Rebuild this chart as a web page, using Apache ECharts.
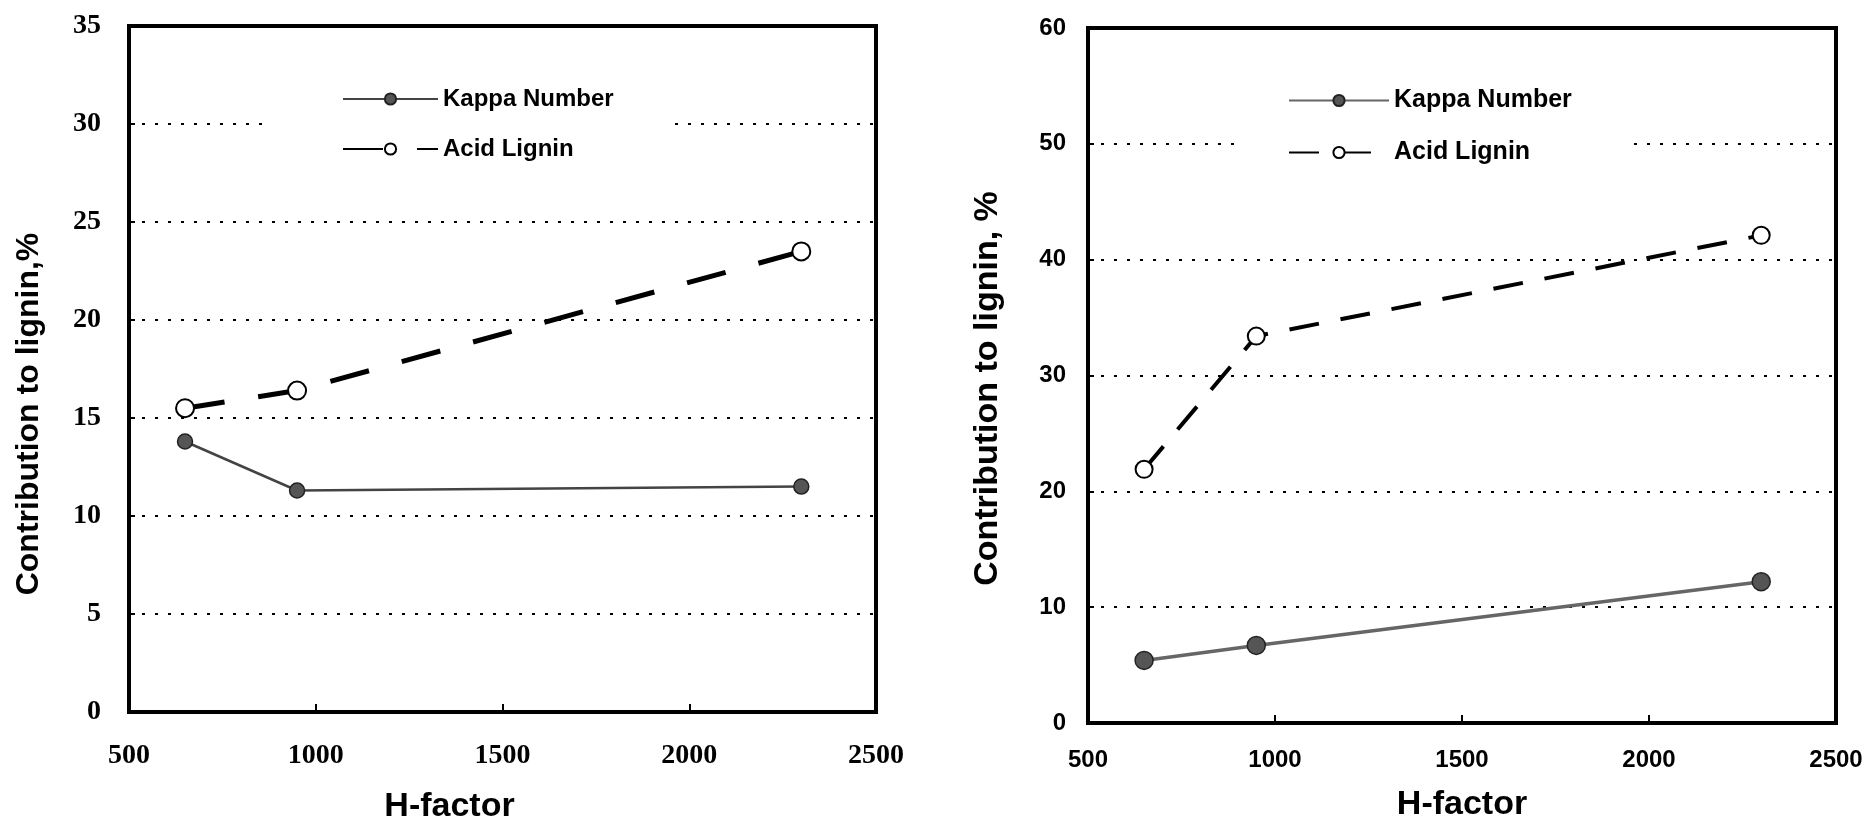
<!DOCTYPE html>
<html>
<head>
<meta charset="utf-8">
<script src="https://cdn.jsdelivr.net/npm/echarts@6/dist/echarts.min.js"></script>
<style>
  html, body { margin: 0; padding: 0; background: #fff; }
  #c1 { position: absolute; left: 0; top: 0; width: 940px; height: 829px; }
  #c2 { position: absolute; left: 940px; top: 0; width: 935px; height: 829px; }
</style>
</head>
<body>
<div id="c1"></div>
<div id="c2"></div>
<script>
// Data
var hFactor = [650, 950, 2300];
var leftKappa = [13.8, 11.3, 11.5];
var leftAcid = [15.5, 16.4, 23.5];
var rightKappa = [5.4, 6.7, 12.2];
var rightAcid = [21.9, 33.4, 42.1];
var xTicks = [500, 1000, 1500, 2000, 2500];

function pairs(xs, ys) { return xs.map(function (x, i) { return [x, ys[i]]; }); }
function plain(v) { return String(v); }

var gridDots = { show: true, lineStyle: { color: '#000', width: 2, type: [3, 10] } };

function makeOption(cfg) {
  return {
    animation: false,
    backgroundColor: '#fff',
    grid: {
      left: cfg.grid[0], right: cfg.grid[1], top: cfg.grid[2], bottom: cfg.grid[3],
      show: true, borderColor: '#000', borderWidth: 4, backgroundColor: 'transparent'
    },
    legend: {
      left: cfg.legendLeft, top: cfg.legendTop,
      orient: 'vertical',
      padding: cfg.legendPadding,
      backgroundColor: '#fff',
      itemWidth: cfg.legendItemWidth, itemHeight: 14,
      itemGap: cfg.legendGap,
      textStyle: { color: '#000', fontWeight: 'bold', fontFamily: 'Liberation Sans, Arial, sans-serif', fontSize: cfg.legendFont },
      data: ['Kappa Number', 'Acid Lignin']
    },
    xAxis: {
      type: 'value', min: xTicks[0], max: xTicks[xTicks.length - 1], interval: 500,
      name: 'H-factor', nameLocation: 'middle', nameGap: cfg.xNameGap,
      nameTextStyle: { color: '#000', fontWeight: 'bold', fontFamily: 'Liberation Sans, Arial, sans-serif', fontSize: cfg.nameFont, padding: cfg.xNamePad },
      axisLine: { show: true, lineStyle: { color: '#000', width: 4 } },
      axisTick: { show: true, inside: true, length: 8, lineStyle: { color: '#000', width: 2 } },
      axisLabel: { color: '#000', fontWeight: 'bold', fontFamily: cfg.tickFamily, fontSize: cfg.tickFont, margin: cfg.xLabelMargin, formatter: plain },
      splitLine: { show: false }
    },
    yAxis: {
      type: 'value', min: 0, max: cfg.yMax, interval: cfg.yInterval,
      name: cfg.yName, nameLocation: 'middle', nameGap: cfg.yNameGap,
      nameTextStyle: { color: '#000', fontWeight: 'bold', fontFamily: 'Liberation Sans, Arial, sans-serif', fontSize: cfg.yNameFont, padding: cfg.yNamePad },
      axisLine: { show: true, lineStyle: { color: '#000', width: 4 } },
      axisTick: { show: true, inside: true, length: 6, lineStyle: { color: '#000', width: 2 } },
      axisLabel: { color: '#000', fontWeight: 'bold', fontFamily: cfg.tickFamily, fontSize: cfg.tickFont, margin: cfg.yLabelMargin, formatter: plain },
      splitLine: gridDots
    },
    series: [
      {
        name: 'Kappa Number', type: 'line', data: pairs(hFactor, cfg.kappa),
        symbol: 'circle', symbolSize: cfg.kSym,
        itemStyle: { color: '#555', borderColor: '#222', borderWidth: 1.5 },
        lineStyle: { color: cfg.kColor, width: cfg.kWidth, type: 'solid' },
        z: 3
      },
      {
        name: 'Acid Lignin', type: 'line', data: pairs(hFactor, cfg.acid),
        symbol: 'circle', symbolSize: cfg.aSym,
        itemStyle: { color: '#fff', borderColor: '#000', borderWidth: 2 },
        lineStyle: { color: '#000', width: cfg.aWidth, type: cfg.aDash },
        z: 4
      }
    ]
  };
}

var chart1 = echarts.init(document.getElementById('c1'));
chart1.setOption(makeOption({
  grid: [129, 64, 26, 116],
  legendLeft: 272, legendTop: 77, legendPadding: [10, 58, 10, 70],
  legendItemWidth: 95, legendGap: 26, legendFont: 24,
  xNameGap: 78, xNamePad: [0, 106, 0, 0], nameFont: 34,
  tickFamily: 'Liberation Serif, Times New Roman, serif', tickFont: 28,
  xLabelMargin: 30, yLabelMargin: 28,
  yMax: 35, yInterval: 5,
  yName: 'Contribution to lignin,%', yNameGap: 84, yNameFont: 32, yNamePad: [0, 90, 0, 0],
  kappa: leftKappa, acid: leftAcid,
  kSym: 15, kColor: '#444', kWidth: 2.5,
  aSym: 18, aWidth: 5, aDash: [40, 34]
}));

var chart2 = echarts.init(document.getElementById('c2'));
chart2.setOption(makeOption({
  grid: [148, 39, 28, 106],
  legendLeft: 295, legendTop: 78, legendPadding: [10, 55, 10, 53],
  legendItemWidth: 100, legendGap: 27, legendFont: 25,
  xNameGap: 65, xNamePad: [0, 0, 0, 0], nameFont: 34,
  tickFamily: 'Liberation Sans, Arial, sans-serif', tickFont: 24,
  xLabelMargin: 25, yLabelMargin: 22,
  yMax: 60, yInterval: 10,
  yName: 'Contribution to lignin, %', yNameGap: 83, yNameFont: 34, yNamePad: [0, 26, 0, 0],
  kappa: rightKappa, acid: rightAcid,
  kSym: 18, kColor: '#666', kWidth: 3.5,
  aSym: 17, aWidth: 4, aDash: [30, 22]
}));
</script>
</body>
</html>
